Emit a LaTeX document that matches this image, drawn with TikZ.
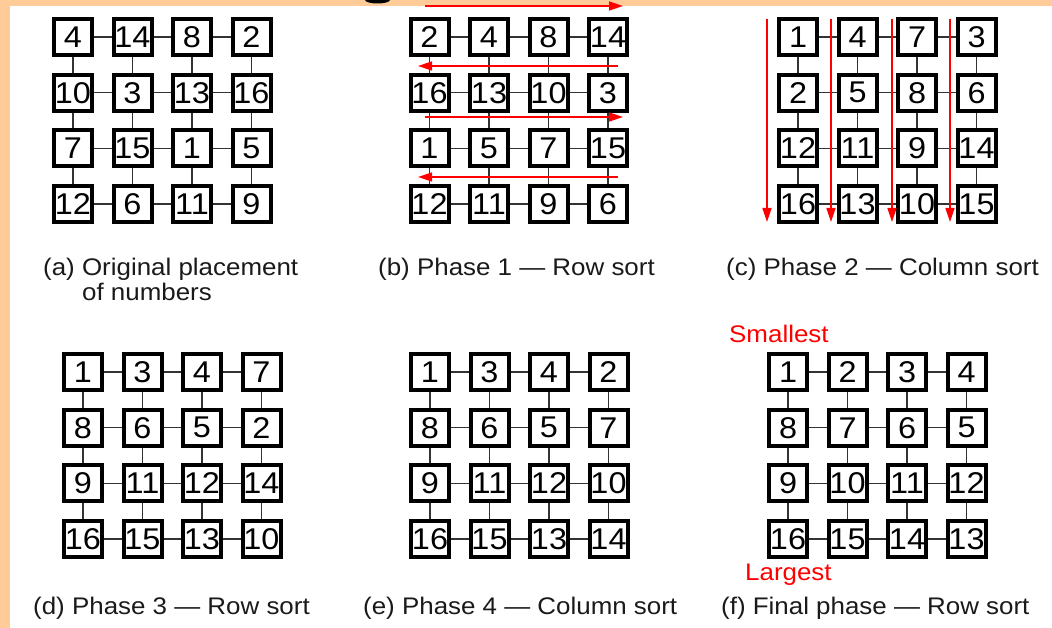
\documentclass[tikz,border=0pt]{standalone}
\usepackage{fontspec}
\setmainfont{Liberation Sans}[FakeStretch=1.08]
\usetikzlibrary{arrows.meta}
\definecolor{peach}{HTML}{FFCC99}
\definecolor{linkgray}{HTML}{333333}
\definecolor{captext}{HTML}{1A1A1A}
\tikzset{
  cell/.style={draw=black, line width=4pt, fill=white, minimum width=38pt, minimum height=36pt,
    inner sep=0pt, font=\fontsize{30}{30}\selectfont},
  link/.style={draw=linkgray, line width=1.5pt},
  caption/.style={anchor=base west, inner sep=0pt, text=captext, font=\fontsize{24}{24}\selectfont},
  redlabel/.style={anchor=base west, inner sep=0pt, text=red, font=\fontsize{24}{24}\selectfont},
  sortarrow/.style={draw=red, line width=1.5pt, -{Triangle[length=14pt,width=9pt]}},
}
\newcommand\meshgrid[4]{%
  \foreach \v [count=\i from 0] in {#4} {%
    \pgfmathtruncatemacro\rr{int(\i/4)}%
    \pgfmathtruncatemacro\cc{mod(\i,4)}%
    \node[cell] (#1-\rr-\cc) at ({#2+\cc*59.5},{#3+\rr*55.7}) {\v};
  }%
  \foreach \r in {0,...,3}{\foreach \c/\d in {0/1,1/2,2/3}{\draw[link] (#1-\r-\c) -- (#1-\r-\d);}}%
  \foreach \r/\s in {0/1,1/2,2/3}{\foreach \c in {0,...,3}{\draw[link] (#1-\r-\c) -- (#1-\s-\c);}}%
}
\begin{document}
\begin{tikzpicture}[x=1pt,y=-1pt]
\useasboundingbox (0,0) rectangle (1052,628);
\fill[white] (0,0) rectangle (1052,628);
% slide frame
\fill[peach] (0,0) rectangle (1052,6);
\fill[peach] (0,0) rectangle (10,628);
\begin{scope}
\clip (0,0) rectangle (1052,6);
\fill[black] (377.5,0) ellipse [x radius=12.5, y radius=3.5];
\end{scope}

% grids
\meshgrid{a}{73}{37}{4,14,8,2,10,3,13,16,7,15,1,5,12,6,11,9}
\meshgrid{b}{429.5}{37}{2,4,8,14,16,13,10,3,1,5,7,15,12,11,9,6}
\meshgrid{c}{798}{37}{1,4,7,3,2,5,8,6,12,11,9,14,16,13,10,15}
\meshgrid{d}{83}{372}{1,3,4,7,8,6,5,2,9,11,12,14,16,15,13,10}
\meshgrid{e}{430}{372}{1,3,4,2,8,6,5,7,9,11,12,10,16,15,13,14}
\meshgrid{f}{788}{372}{1,2,3,4,8,7,6,5,9,10,11,12,16,15,14,13}

% row-sort arrows (b)
\coordinate (b1s) at (425,6);   \coordinate (b1e) at (623,6);
\coordinate (b2s) at (618,66);  \coordinate (b2e) at (418,66);
\coordinate (b3s) at (425,117); \coordinate (b3e) at (623,117);
\coordinate (b4s) at (618,177); \coordinate (b4e) at (418,177);
\draw[sortarrow] (b1s) -- (b1e);
\draw[sortarrow] (b2s) -- (b2e);
\draw[sortarrow] (b3s) -- (b3e);
\draw[sortarrow] (b4s) -- (b4e);

% column-sort arrows (c)
\foreach \x [count=\k] in {767,831,892,950} {
  \coordinate (c\k s) at (\x,19);
  \coordinate (c\k e) at (\x,222);
  \draw[sortarrow] (c\k s) -- (c\k e);
}

% captions
\node[caption] (capa1) at (43,276) {(a) Original placement};
\node[caption] (capa2) at (82,301) {of numbers};
\node[caption] (capb) at (378,276) {(b) Phase 1 — Row sort};
\node[caption] (capc) at (726,276) {(c) Phase 2 — Column sort};
\node[caption] (capd) at (33,614) {(d) Phase 3 — Row sort};
\node[caption] (cape) at (363,614) {(e) Phase 4 — Column sort};
\node[caption] (capf) at (721,614) {(f) Final phase — Row sort};
\node[redlabel] (small) at (729,342) {Smallest};
\node[redlabel] (large) at (745,580) {Largest};
\end{tikzpicture}
\end{document}
